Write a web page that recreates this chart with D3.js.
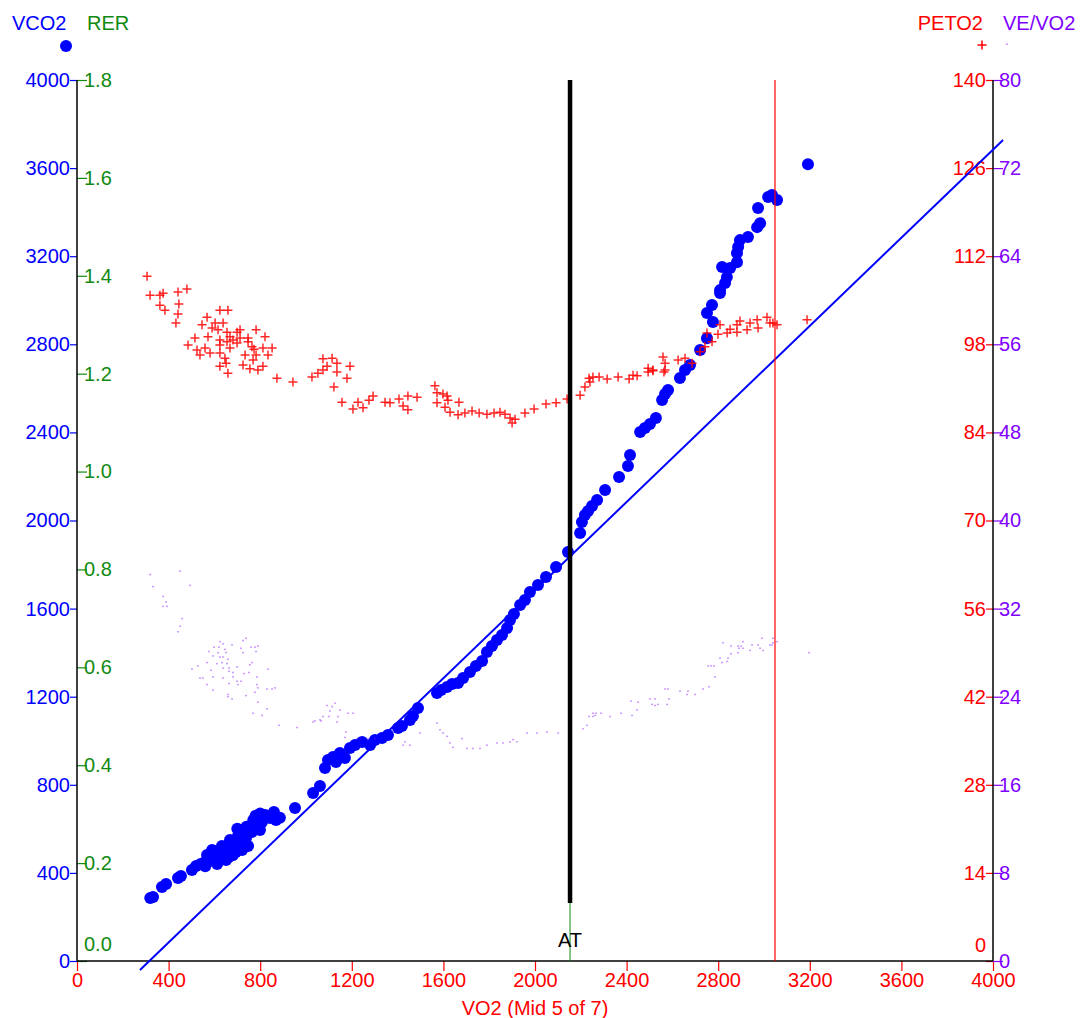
<!DOCTYPE html>
<html>
<head>
<meta charset="utf-8">
<script src="https://cdn.jsdelivr.net/npm/d3@7"></script>
<style>
  body { margin: 0; background: #fff; }
  svg { display: block; font-family: Arial, "Liberation Sans", sans-serif; }
</style>
</head>
<body>
<div id="chart"></div>
<script>
// VCO2 vs VO2 (ml/min)
const vco2Points = [
  [320,286],[332,291],[371,336],[389,350],[441,377],[454,386],[502,413],[520,431],[559,449],[581,454],
  [568,481],[616,495],[633,477],[603,468],[659,513],[668,549],[686,527],[703,568],[712,540],[729,595],
  [738,558],[755,613],[764,586],[782,622],[790,649],[808,631],[821,663],[843,649],[860,676],[869,640],
  [886,650],[651,459],[694,495],[747,522],[799,595],[721,504],[633,522],[590,504],[612,440],[680,480],
  [720,580],[770,640],[660,470],[700,600],[740,610],[780,660],[800,670],[560,430],[540,440],[600,500],
  [952,695],[1031,763],[1061,795],
  [1083,876],[1096,913],[1118,926],[1131,903],[1148,944],[1170,922],[1192,967],[1214,981],[1245,994],
  [1280,981],[1301,1003],[1332,1012],[1358,1026],[1402,1058],[1419,1067],[1454,1094],[1467,1112],
  [1489,1149],[1572,1217],[1590,1230],[1616,1244],[1638,1258],[1664,1262],[1686,1285],[1716,1312],
  [1742,1339],[1769,1362],[1790,1403],[1812,1430],[1834,1457],[1856,1480],[1878,1512],[1891,1548],
  [1908,1575],[1935,1616],[1956,1639],[1978,1675],[2013,1707],[2048,1743],[2092,1789],[2144,1857],
  [2197,1943],[2205,1993],[2218,2025],[2232,2043],[2249,2066],[2271,2093],[2306,2138],[2367,2197],
  [2406,2247],[2415,2297],[2459,2402],[2480,2420],[2502,2438],[2528,2465],[2555,2547],[2568,2574],
  [2581,2592],[2633,2647],[2655,2683],[2677,2706],[2721,2774],[2751,2828],[2751,2942],[2777,2901],
  [2773,2978],[2808,3033],[2808,3046],[2830,3078],[2838,3105],[2817,3151],[2852,3146],[2882,3173],
  [2882,3214],[2887,3242],[2895,3273],[2930,3287],[2970,3332],[2983,3350],[2974,3419],[3018,3469],
  [3035,3478],[3057,3455],[3192,3618]
];

// PETO2 (mmHg) vs VO2
const peto2Points = [
  [306,108.8],[319,105.8],[362,105.8],[376,106.1],[441,106.3],[480,106.8],[362,104.2],[445,104.4],
  [384,103.4],[441,102.8],[432,101.4],[624,103.4],[659,103.4],[568,102.3],[546,101.1],[603,101.4],
  [638,101.4],[590,100.6],[616,100.3],[655,99.9],[699,99.9],[712,100.3],[782,100.3],[515,99.0],
  [572,99.2],[624,98.7],[668,99.2],[681,98.7],[712,99.0],[747,99.0],[821,99.2],[485,97.9],[655,98.4],
  [699,98.2],[747,98.4],[764,97.6],[524,97.1],[559,97.4],[624,97.9],[668,97.4],[773,97.2],[812,97.4],
  [852,97.4],[537,96.3],[581,96.6],[624,96.6],[734,96.3],[782,96.3],[834,96.3],[646,95.8],[769,95.5],
  [651,95.0],[624,94.5],[725,94.7],[812,94.5],[755,94.1],[790,93.9],[659,93.4],[873,92.6],[943,92.0],
  [1026,92.8],[1052,93.4],[1074,95.7],[1114,95.8],[1092,94.5],[1135,95.0],[1074,93.9],[1192,94.5],
  [1135,93.6],[1179,92.6],[1122,91.2],[1157,88.8],[1227,88.8],[1205,87.7],[1249,87.9],[1275,89.1],
  [1293,89.8],[1345,88.8],[1367,88.7],[1406,89.3],[1445,89.8],[1485,89.6],[1424,88.2],[1445,87.6],
  [1563,91.4],[1572,90.3],[1598,90.1],[1616,89.8],[1572,88.7],[1620,89.1],[1668,88.8],[1607,88.0],
  [1629,87.2],[1664,86.8],[1694,87.1],[1725,87.4],[1756,87.1],[1790,86.9],[1821,87.1],[1847,87.2],
  [1869,86.9],[1891,86.3],[1900,85.5],[1913,86.1],[1956,87.1],[1996,87.7],[2048,88.5],[2092,88.7],
  [2140,89.3],[2197,89.9],[2218,91.2],[2240,92.0],[2236,92.6],[2253,92.8],[2280,92.8],[2315,92.5],
  [2363,92.8],[2411,92.5],[2428,93.1],[2446,93.0],[2494,93.6],[2515,93.8],[2563,93.6],
  [2559,96.0],[2568,95.0],[2494,94.2],[2515,93.9],[2568,93.9],[2625,95.5],[2655,95.8],[2686,95.0],
  [2721,96.8],[2742,97.6],[2751,99.8],[2773,98.4],[2808,101.1],[2799,99.6],[2839,99.8],[2852,100.4],
  [2882,101.1],[2882,99.9],[2895,101.7],[2926,100.3],[2939,101.4],[2970,101.9],[2974,100.6],
  [3013,102.3],[3026,101.4],[3039,101.4],[3057,101.1],[3188,101.9]
];

// VE/VO2 vs VO2
const veVo2Points = [
  [319,35.1],[450,35.4],[493,34.1],[332,34.0],[376,33.1],[389,32.6],[376,32.2],[393,32.2],[459,31.1],
  [450,30.4],[441,29.9],[624,29.0],[638,28.8],[738,29.3],[725,29.1],[677,28.7],[598,28.5],[620,28.5],
  [760,28.5],[790,28.6],[777,28.5],[576,28.1],[716,28.4],[646,28.3],[616,28.0],[651,28.0],[782,28.1],
  [594,27.7],[624,27.6],[638,27.6],[659,27.4],[725,28.0],[568,27.1],[611,27.0],[633,27.1],[655,27.0],
  [699,26.7],[764,27.1],[755,26.9],[502,26.5],[528,26.8],[585,26.4],[638,26.6],[664,26.6],[664,26.3],
  [681,26.2],[729,26.1],[751,26.2],[834,26.5],[594,25.8],[638,25.7],[681,25.8],[786,25.8],[537,25.7],
  [550,25.7],[699,25.4],[716,25.4],[664,25.2],[703,25.1],[568,25.1],[786,25.1],[790,24.8],[830,24.7],
  [852,24.7],[865,24.8],[594,24.6],[777,24.4],[659,24.2],[738,24.1],[659,24.0],[677,23.8],[790,23.5],
  [830,22.9],[769,22.5],[808,22.3],[882,21.4],[961,21.2],[1092,23.2],[1127,23.4],[1114,23.1],
  [1149,22.8],[1105,22.7],[1100,22.2],[1074,22.2],[1140,22.2],[1039,21.8],[1066,21.8],[1135,21.7],
  [1183,22.5],[1205,22.5],[1175,20.8],[1170,20.3],[1223,20.2],[1240,20.2],[1271,20.2],[1301,20.2],
  [1498,20.7],[1424,19.6],[1454,19.6],[1031,21.7],[1061,21.9],[1432,19.9],[1572,21.6],[1585,21.0],
  [1598,20.7],[1616,20.4],[1629,19.8],[1642,19.4],[1681,20.2],[1703,19.3],[1729,19.3],[1760,19.3],
  [1790,19.6],[1834,19.8],[1860,19.8],[1891,19.9],[1904,20.1],[1921,19.9],[1965,20.7],[2009,20.7],
  [2052,20.8],[2101,20.7],[2210,21.1],[2227,21.4],[2236,22.2],[2253,22.2],[2253,22.5],[2262,22.3],
  [2266,22.5],[2288,22.5],[2328,22.2],[2376,22.5],[2419,23.6],[2424,22.3],[2446,22.8],[2450,23.5],
  [2502,23.8],[2511,23.3],[2524,23.2],[2537,23.3],[2524,23.8],[2568,24.7],[2581,24.7],[2577,23.3],
  [2585,23.8],[2633,24.5],[2664,24.2],[2668,24.5],[2699,24.2],[2734,24.7],[2760,24.9],[2756,26.8],
  [2769,26.8],[2782,26.8],[2786,25.8],[2808,27.5],[2817,27.1],[2839,27.2],[2843,27.5],[2821,28.9],
  [2856,28.6],[2856,27.9],[2887,28.6],[2891,28.4],[2900,28.6],[2908,28.4],[2908,29.0],[2887,28.0],
  [2939,28.2],[2948,28.7],[2974,28.7],[2983,28.4],[2991,29.3],[2996,28.2],[3026,28.7],[3035,28.7],
  [3039,29.3],[3039,28.9],[3057,29.0],[3197,28.0]
];

// regression line VCO2 = slope * VO2 + intercept, drawn over this VO2 span
const regSlope = 1.0;
const regIntercept = -316;
const regSpan = [275, 4044];

const atVo2 = 2153;      // anaerobic threshold
const markerVo2 = 3048;  // red marker line

const xTicks = [0, 400, 800, 1200, 1600, 2000, 2400, 2800, 3200, 3600, 4000];
const vco2Ticks = [0, 400, 800, 1200, 1600, 2000, 2400, 2800, 3200, 3600, 4000];
const rerTicks = [0, 0.2, 0.4, 0.6, 0.8, 1.0, 1.2, 1.4, 1.6, 1.8];
const peto2Ticks = [0, 14, 28, 42, 56, 70, 84, 98, 112, 126, 140];
const veTicks = [0, 8, 16, 24, 32, 40, 48, 56, 64, 72, 80];

const BLUE = "#0000ff", GREEN = "#118a11", RED = "#ff0000", PURPLE = "#8000ff";

const W = 1081, H = 1018;
const mLeft = 77, mRight = 993, mTop = 80, mBottom = 961;

const x = d3.scaleLinear().domain([0, 4000]).range([mLeft, mRight]);
const yV = d3.scaleLinear().domain([0, 4000]).range([mBottom, mTop]);
const yR = d3.scaleLinear().domain([0, 1.8]).range([mBottom, mTop]);
const yP = d3.scaleLinear().domain([0, 140]).range([mBottom, mTop]);
const yE = d3.scaleLinear().domain([0, 80]).range([mBottom, mTop]);

const svg = d3.select("#chart").append("svg")
  .attr("width", W).attr("height", H);

svg.append("rect").attr("width", W).attr("height", H).attr("fill", "#fff");

function styleAxis(g, color) {
  g.select(".domain").remove();
  g.selectAll(".tick line").attr("stroke", color).attr("stroke-width", 1.2);
  g.selectAll(".tick text").attr("fill", color).attr("font-size", 20)
    .attr("font-family", "Arial, 'Liberation Sans', sans-serif");
}

// axes
let gx = svg.append("g").attr("transform", `translate(0,${mBottom})`)
  .call(d3.axisBottom(x).tickValues(xTicks).tickSize(10).tickPadding(2).tickFormat(d3.format("d")));
styleAxis(gx, RED);

let gV = svg.append("g").attr("transform", `translate(${mLeft},0)`)
  .call(d3.axisLeft(yV).tickValues(vco2Ticks).tickSize(7).tickPadding(0).tickFormat(d3.format("d")));
styleAxis(gV, BLUE);

let gR = svg.append("g").attr("transform", `translate(${mLeft},0)`)
  .call(d3.axisRight(yR).tickValues(rerTicks).tickSize(10).tickPadding(-3).tickFormat(d3.format(".1f")));
styleAxis(gR, GREEN);
gR.selectAll(".tick text").filter(d => d === 0).attr("y", -17);

let gP = svg.append("g").attr("transform", `translate(${mRight},0)`)
  .call(d3.axisLeft(yP).tickValues(peto2Ticks).tickSize(7).tickPadding(0).tickFormat(d3.format("d")));
styleAxis(gP, RED);
gP.selectAll(".tick text").filter(d => d === 0).attr("y", -16);

let gE = svg.append("g").attr("transform", `translate(${mRight},0)`)
  .call(d3.axisRight(yE).tickValues(veTicks).tickSize(10).tickPadding(-4).tickFormat(d3.format("d")));
styleAxis(gE, PURPLE);

// frame lines
svg.append("line").attr("x1", mLeft).attr("x2", mLeft).attr("y1", mTop).attr("y2", mBottom)
  .attr("stroke", "#000").attr("stroke-width", 1.5);
svg.append("line").attr("x1", mRight).attr("x2", mRight).attr("y1", mTop).attr("y2", mBottom)
  .attr("stroke", "#000").attr("stroke-width", 1.5);
svg.append("line").attr("x1", mLeft).attr("x2", mRight).attr("y1", mBottom).attr("y2", mBottom)
  .attr("stroke", "#000").attr("stroke-width", 1.5);

// regression line
svg.append("line")
  .attr("x1", x(regSpan[0])).attr("y1", yV(regSlope * regSpan[0] + regIntercept))
  .attr("x2", x(regSpan[1])).attr("y2", yV(regSlope * regSpan[1] + regIntercept))
  .attr("stroke", BLUE).attr("stroke-width", 2);

// VCO2 dots
svg.append("g").selectAll("circle").data(vco2Points).join("circle")
  .attr("cx", d => x(d[0])).attr("cy", d => yV(d[1])).attr("r", 6)
  .attr("fill", BLUE);

// PETO2 crosses
svg.append("g").selectAll("path").data(peto2Points).join("path")
  .attr("transform", d => `translate(${x(d[0])},${yP(d[1])})`)
  .attr("d", "M-4.5,0H4.5M0,-4.5V4.5")
  .attr("stroke", RED).attr("stroke-width", 1.5).attr("fill", "none")
  .attr("stroke-opacity", 0.85);

// VE/VO2 dots
svg.append("g").selectAll("rect").data(veVo2Points).join("rect")
  .attr("x", d => x(d[0]) - 1).attr("y", d => yE(d[1]) - 0.75)
  .attr("width", 2).attr("height", 1.5)
  .attr("fill", PURPLE).attr("opacity", 0.4);

// marker line
svg.append("line").attr("x1", x(markerVo2)).attr("x2", x(markerVo2))
  .attr("y1", mTop).attr("y2", mBottom).attr("stroke", RED).attr("stroke-width", 1.2);

// AT line
svg.append("line").attr("x1", x(atVo2)).attr("x2", x(atVo2))
  .attr("y1", mTop).attr("y2", 903).attr("stroke", "#000").attr("stroke-width", 4.5);
svg.append("line").attr("x1", x(atVo2)).attr("x2", x(atVo2))
  .attr("y1", 903).attr("y2", mBottom).attr("stroke", GREEN).attr("stroke-width", 1);
svg.append("text").attr("x", x(atVo2)).attr("y", 947).attr("text-anchor", "middle")
  .attr("font-size", 20).attr("fill", "#000").text("AT");

// x title
svg.append("text").attr("x", (mLeft + mRight) / 2).attr("y", 1015).attr("text-anchor", "middle")
  .attr("font-size", 20).attr("fill", RED).text("VO2 (Mid 5 of 7)");

// series headers and legend symbols
const headers = [
  { label: "VCO2", x: 12, anchor: "start", color: BLUE },
  { label: "RER", x: 87, anchor: "start", color: GREEN },
  { label: "PETO2", x: 983, anchor: "end", color: RED },
  { label: "VE/VO2", x: 1003, anchor: "start", color: PURPLE }
];
svg.append("g").selectAll("text").data(headers).join("text")
  .attr("x", d => d.x).attr("y", 30).attr("text-anchor", d => d.anchor)
  .attr("font-size", 20).attr("fill", d => d.color).text(d => d.label);

svg.append("circle").attr("cx", 66).attr("cy", 46).attr("r", 6).attr("fill", BLUE);
svg.append("path").attr("transform", "translate(982,45)").attr("d", "M-4.5,0H4.5M0,-4.5V4.5")
  .attr("stroke", RED).attr("stroke-width", 1.5);
svg.append("rect").attr("x", 1006).attr("y", 43.5).attr("width", 2).attr("height", 1.5)
  .attr("fill", PURPLE).attr("opacity", 0.4);
</script>
</body>
</html>
